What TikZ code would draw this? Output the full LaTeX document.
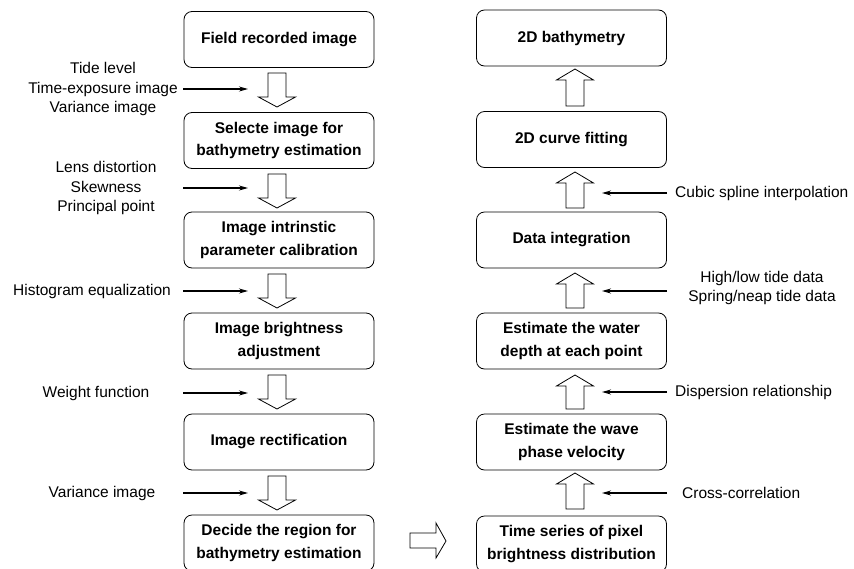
\documentclass[tikz,border=0pt]{standalone}
\usepackage{fontspec}
\setmainfont{Liberation Sans}
\usetikzlibrary{arrows.meta}
\newcommand\hdown[3]{% x, ytop, ytip
  \draw[hollow] (#1-9,#2) -- (#1+9,#2) -- (#1+9,#3-10) -- (#1+18.5,#3-10) -- (#1,#3)
    -- (#1-18.5,#3-10) -- (#1-9,#3-10) -- cycle;}
\newcommand\hup[3]{% x, ytip, ybottom
  \draw[hollow] (#1-9,#3) -- (#1+9,#3) -- (#1+9,#2+11) -- (#1+18.5,#2+11) -- (#1,#2)
    -- (#1-18.5,#2+11) -- (#1-9,#2+11) -- cycle;}
\begin{document}
\begin{tikzpicture}[x=1pt,y=-1pt,
  box/.style={draw, rounded corners=8pt, minimum width=190pt, minimum height=56pt,
    align=center, font=\fontsize{15.5}{22.5}\selectfont\bfseries, inner sep=0pt, line width=0.8pt},
  lbl/.style={align=center, font=\fontsize{15.5}{19.5}\selectfont, inner sep=0pt},
  feed/.style={line width=1.2pt, -{Stealth[length=9pt,width=5pt]}},
  hollow/.style={draw, line width=0.8pt, fill=white}]
\useasboundingbox (0,0) rectangle (854,568);
\clip (0,0) rectangle (854,568);
% left column
\node[box] (l1) at (279,39.5) {Field recorded image};
\node[box] (l2) at (279,140.5) {Selecte image for\\bathymetry estimation};
\node[box] (l3) at (279,240) {Image intrinstic\\parameter calibration};
\node[box] (l4) at (279,341) {Image brightness\\adjustment};
\node[box] (l5) at (279,442) {Image rectification};
\node[box] (l6) at (279,543) {Decide the region for\\bathymetry estimation};
% right column
\node[box] (r1) at (571.5,38) {2D bathymetry};
\node[box] (r2) at (571.5,139.5) {2D curve fitting};
\node[box] (r3) at (571.5,240) {Data integration};
\node[box] (r4) at (571.5,341) {Estimate the water\\depth at each point};
\node[box] (r5) at (571.5,442) {Estimate the wave\\phase velocity};
\node[box] (r6) at (571.5,544) {Time series of pixel\\brightness distribution};
% hollow arrows
\hdown{277}{73}{107}
\hdown{277}{174}{208}
\hdown{277}{274}{308}
\hdown{277}{375}{409}
\hdown{277}{476}{510}
\hup{575}{69}{106}
\hup{575}{172}{208}
\hup{575}{273}{308}
\hup{575}{375}{409}
\hup{575}{473}{509}
\draw[hollow] (410,533) -- (436,533) -- (436,523) -- (446,541) -- (436,558) -- (436,548) -- (410,548) -- cycle;
% left labels
\node[lbl] (t1) at (103,89) {Tide level\\Time-exposure image\\Variance image};
\node[lbl] (t2) at (106,188) {Lens distortion\\Skewness\\Principal point};
\node[lbl] (t3) at (92,291) {Histogram equalization};
\node[lbl] (t4) at (96,393) {Weight function};
\node[lbl] (t5) at (102,493) {Variance image};
\coordinate (a1s) at (183,89);  \coordinate (a1e) at (248,89);
\coordinate (a2s) at (183,188); \coordinate (a2e) at (248,188);
\coordinate (a3s) at (183,291); \coordinate (a3e) at (248,291);
\coordinate (a4s) at (183,393); \coordinate (a4e) at (248,393);
\coordinate (a5s) at (183,493); \coordinate (a5e) at (248,493);
\draw[feed] (a1s) -- (a1e);
\draw[feed] (a2s) -- (a2e);
\draw[feed] (a3s) -- (a3e);
\draw[feed] (a4s) -- (a4e);
\draw[feed] (a5s) -- (a5e);
% right labels
\node[lbl, anchor=west] (s1) at (675,193) {Cubic spline interpolation};
\node[lbl] (s2) at (762,288) {High/low tide data\\Spring/neap tide data};
\node[lbl, anchor=west] (s3) at (675,392) {Dispersion relationship};
\node[lbl, anchor=west] (s4) at (682,493) {Cross-correlation};
\coordinate (b1s) at (667,193); \coordinate (b1e) at (602,193);
\coordinate (b2s) at (667,291); \coordinate (b2e) at (602,291);
\coordinate (b3s) at (667,392); \coordinate (b3e) at (602,392);
\coordinate (b4s) at (667,493); \coordinate (b4e) at (602,493);
\draw[feed] (b1s) -- (b1e);
\draw[feed] (b2s) -- (b2e);
\draw[feed] (b3s) -- (b3e);
\draw[feed] (b4s) -- (b4e);
\end{tikzpicture}
\end{document}
